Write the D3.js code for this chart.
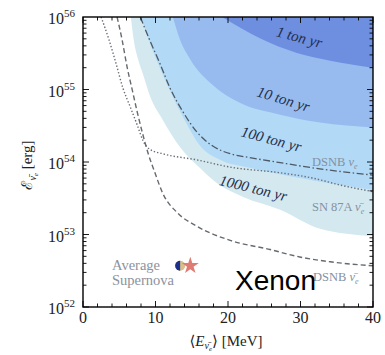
<!DOCTYPE html>
<html>
<head>
<meta charset="utf-8">
<script src="https://cdn.jsdelivr.net/npm/d3@7"></script>
<style>
body { margin: 0; background: #fff; }
text { font-family: "Liberation Serif", "DejaVu Serif", serif; }
text.sans { font-family: "Liberation Sans", Arial, sans-serif; }
</style>
</head>
<body>
<svg id="chart" width="385" height="355"></svg>
<script>
// exposure regions: lower boundary of each shaded band (E in MeV, energy in erg)
const ton1E = [19.2, 21.7, 24.4, 29.5, 34.1, 40];
const ton1V = [1e56, 7.1e55, 5.1e55, 3.2e55, 2.5e55, 2.0e55];
const ton10E = [12.4, 13.4, 14.8, 17.9, 21.7, 27.2, 32.7, 40];
const ton10V = [1e56, 4.8e55, 2.6e55, 1.15e55, 6.5e54, 4.5e54, 3.5e54, 3.0e54];
const ton100E = [8.0, 9.2, 10.6, 12.3, 14.2, 16.1, 18.9, 23.0, 29.9, 35.5, 40];
const ton100V = [1e56, 4.4e55, 2.0e55, 8.3e54, 3.5e54, 1.7e54, 1.07e54, 8.3e53, 6.0e53, 4.8e53, 4.1e53];
const ton1000E = [6.6, 7.0, 7.6, 8.3, 9.2, 11.0, 13.4, 16.1, 18.5, 22.1, 27.2, 32.7, 40];
const ton1000V = [1e56, 4.8e55, 2.6e55, 1.6e55, 8.3e54, 3.8e54, 1.6e54, 8.3e53, 5.1e53, 3.3e53, 2.2e53, 1.2e53, 9.5e52];

// reference curves
const dsnbNuE = [7.9, 9.2, 10.6, 12.0, 13.8, 15.7, 17.9, 20.3, 23.0, 27.2, 31.7, 40];
const dsnbNuV = [1e56, 4.8e55, 2.3e55, 1.05e55, 4.9e54, 2.6e54, 1.66e54, 1.3e54, 1.15e54, 9.8e53, 8.3e53, 6.6e53];
const sn87aE = [2.5, 3.6, 4.6, 5.5, 6.5, 7.5, 8.3, 9.2, 11.0, 15.7, 20.3, 27.2, 31.7, 35.5, 40];
const sn87aV = [1e56, 4.8e55, 2.2e55, 1.05e55, 5.8e54, 3.2e54, 1.95e54, 1.5e54, 1.3e54, 1.07e54, 8.5e53, 7.1e53, 6.0e53, 4.8e53, 3.9e53];
const dsnbAntiE = [4.7, 5.4, 6.1, 6.8, 7.5, 8.3, 9.0, 9.9, 11.0, 13.0, 15.7, 20.3, 25.8, 29.9, 34.1, 40];
const dsnbAntiV = [1e56, 4.8e55, 2.0e55, 9.8e54, 4.8e54, 2.3e54, 1.3e54, 7.2e53, 3.7e53, 2.0e53, 1.3e53, 8.3e52, 6.2e52, 4.9e52, 4.2e52, 3.7e52];

// average supernova markers
const avgCircle = [13.4, 3.7e52];
const avgStar = [14.8, 3.7e52];

const xTicks = [0, 10, 20, 30, 40];
const yTicks = [1e52, 1e53, 1e54, 1e55, 1e56];

const margin = {top: 17, left: 83}, width = 290, height = 290;
const svg = d3.select("#chart");
const g = svg.append("g").attr("transform", `translate(${margin.left},${margin.top})`);

const x = d3.scaleLinear().domain([0, 40]).range([0, width]);
const y = d3.scaleLog().domain([1e52, 1e56]).range([height, 0]);

g.append("clipPath").attr("id", "clip").append("rect").attr("width", width).attr("height", height);
const plot = g.append("g").attr("clip-path", "url(#clip)");

const zip = (E, V) => E.map((e, i) => [e, V[i]]);
const area = d3.area().x(d => x(d[0])).y0(y(1e56)).y1(d => y(d[1])).curve(d3.curveMonotoneX);
const line = d3.line().x(d => x(d[0])).y(d => y(d[1])).curve(d3.curveMonotoneX);

const bands = [
    {E: ton1000E, V: ton1000V, color: "#d3e9ef"},
    {E: ton100E, V: ton100V, color: "#b2d9f6"},
    {E: ton10E, V: ton10V, color: "#97bbef"},
    {E: ton1E, V: ton1V, color: "#6e8ee0"}
];
bands.forEach(b => {
    plot.append("path").datum(zip(b.E, b.V)).attr("fill", b.color).attr("d", area);
});

plot.append("path").datum(zip(dsnbNuE, dsnbNuV)).attr("fill", "none").attr("stroke", "#4d5966")
    .attr("stroke-width", 1.3).attr("stroke-dasharray", "7,2.5,1.5,2.5").attr("d", line);
plot.append("path").datum(zip(sn87aE, sn87aV)).attr("fill", "none").attr("stroke", "#6a6e78")
    .attr("stroke-width", 1.4).attr("stroke-dasharray", "1.4,2").attr("d", line);
plot.append("path").datum(zip(dsnbAntiE, dsnbAntiV)).attr("fill", "none").attr("stroke", "#666a70")
    .attr("stroke-width", 1.4).attr("stroke-dasharray", "5,3").attr("d", line);

// band labels
const bandLabels = [
    {t: "1 ton yr", px: 298, py: 42, a: 15},
    {t: "10 ton yr", px: 282, py: 104, a: 17},
    {t: "100 ton yr", px: 270, py: 144, a: 15},
    {t: "1000 ton yr", px: 252, py: 193, a: 14}
];
bandLabels.forEach(l => {
    svg.append("text").attr("transform", `translate(${l.px},${l.py}) rotate(${l.a})`)
        .attr("text-anchor", "middle").attr("font-style", "italic").attr("font-size", 15)
        .attr("fill", "#1f2d4a").text(l.t);
});

// curve labels
function curveLabel(px, py, name, bar) {
    const t = svg.append("text").attr("x", px).attr("y", py).attr("font-size", 12.5).attr("fill", "#8391a3");
    t.append("tspan").text(name + " ");
    t.append("tspan").attr("font-style", "italic").text(bar ? "\u03BD\u0304" : "\u03BD");
    t.append("tspan").attr("font-size", 8).attr("dy", 3).attr("font-style", "italic").text("e");
}
curveLabel(312, 166, "DSNB", false);
curveLabel(312, 211, "SN 87A", true);
curveLabel(313, 281, "DSNB", true);

// average supernova
svg.append("text").attr("x", 112).attr("y", 270).attr("font-size", 14.5).attr("fill", "#8c929e").text("Average");
svg.append("text").attr("x", 112).attr("y", 285).attr("font-size", 14.5).attr("fill", "#8c929e").text("Supernova");
const cx = margin.left + x(avgCircle[0]), cy = margin.top + y(avgCircle[1]);
svg.append("circle").attr("cx", cx).attr("cy", cy).attr("r", 5).attr("fill", "#d8c08a");
svg.append("path").attr("d", `M${cx},${cy - 5} A5,5 0 0,0 ${cx},${cy + 5} Z`).attr("fill", "#1c2f8c");
svg.append("path").attr("d", d3.symbol().type(d3.symbolStar).size(90)())
    .attr("transform", `translate(${margin.left + x(avgStar[0])},${margin.top + y(avgStar[1])})`)
    .attr("fill", "#e07a72");

svg.append("text").attr("class", "sans").attr("x", 235).attr("y", 290)
    .attr("font-size", 28).attr("fill", "#000").text("Xenon");

// ticks, inside on all four sides
const ax = g.append("g").attr("stroke", "#000").attr("stroke-width", 0.9);
d3.range(0, 41, 2).forEach(v => {
    const len = v % 10 === 0 ? 6 : 3.5;
    ax.append("line").attr("x1", x(v)).attr("x2", x(v)).attr("y1", height).attr("y2", height - len);
    ax.append("line").attr("x1", x(v)).attr("x2", x(v)).attr("y1", 0).attr("y2", len);
});
for (let p = 52; p < 56; p++) {
    for (let m = 1; m < 10; m++) {
        const v = m * Math.pow(10, p), len = m === 1 ? 6 : 3.5;
        ax.append("line").attr("y1", y(v)).attr("y2", y(v)).attr("x1", 0).attr("x2", len);
        ax.append("line").attr("y1", y(v)).attr("y2", y(v)).attr("x1", width).attr("x2", width - len);
    }
}
g.append("rect").attr("width", width).attr("height", height).attr("fill", "none")
    .attr("stroke", "#000").attr("stroke-width", 1.4);

xTicks.forEach(v => {
    g.append("text").attr("x", x(v)).attr("y", height + 16).attr("text-anchor", "middle")
        .attr("font-size", 16).attr("fill", "#222").text(v);
});
yTicks.forEach(v => {
    const t = g.append("text").attr("x", -8).attr("y", y(v) + 7).attr("text-anchor", "end")
        .attr("font-size", 16).attr("fill", "#222");
    t.append("tspan").text("10");
    t.append("tspan").attr("font-size", 11).attr("dy", -7).text(Math.round(Math.log10(v)));
});

// axis titles
const xl = svg.append("text").attr("x", 226).attr("y", 346).attr("text-anchor", "middle")
    .attr("font-size", 15).attr("fill", "#222");
xl.append("tspan").text("\u27E8");
xl.append("tspan").attr("font-style", "italic").text("E");
xl.append("tspan").attr("font-size", 10).attr("dy", 3).attr("font-style", "italic").text("\u03BD\u0304");
xl.append("tspan").attr("font-size", 7).attr("dy", 2).attr("font-style", "italic").text("e");
xl.append("tspan").attr("dy", -5).text("\u27E9 [MeV]");

const yl = svg.append("text").attr("transform", "translate(32,165) rotate(-90)").attr("text-anchor", "middle")
    .attr("font-size", 15).attr("fill", "#222");
yl.append("tspan").text("\u2130");
yl.append("tspan").attr("font-size", 10).attr("dy", 4).attr("font-style", "italic").text("\u03BD\u0304");
yl.append("tspan").attr("font-size", 7).attr("dy", 2).attr("font-style", "italic").text("e");
yl.append("tspan").attr("dy", -6).text(" [erg]");
</script>
</body>
</html>
